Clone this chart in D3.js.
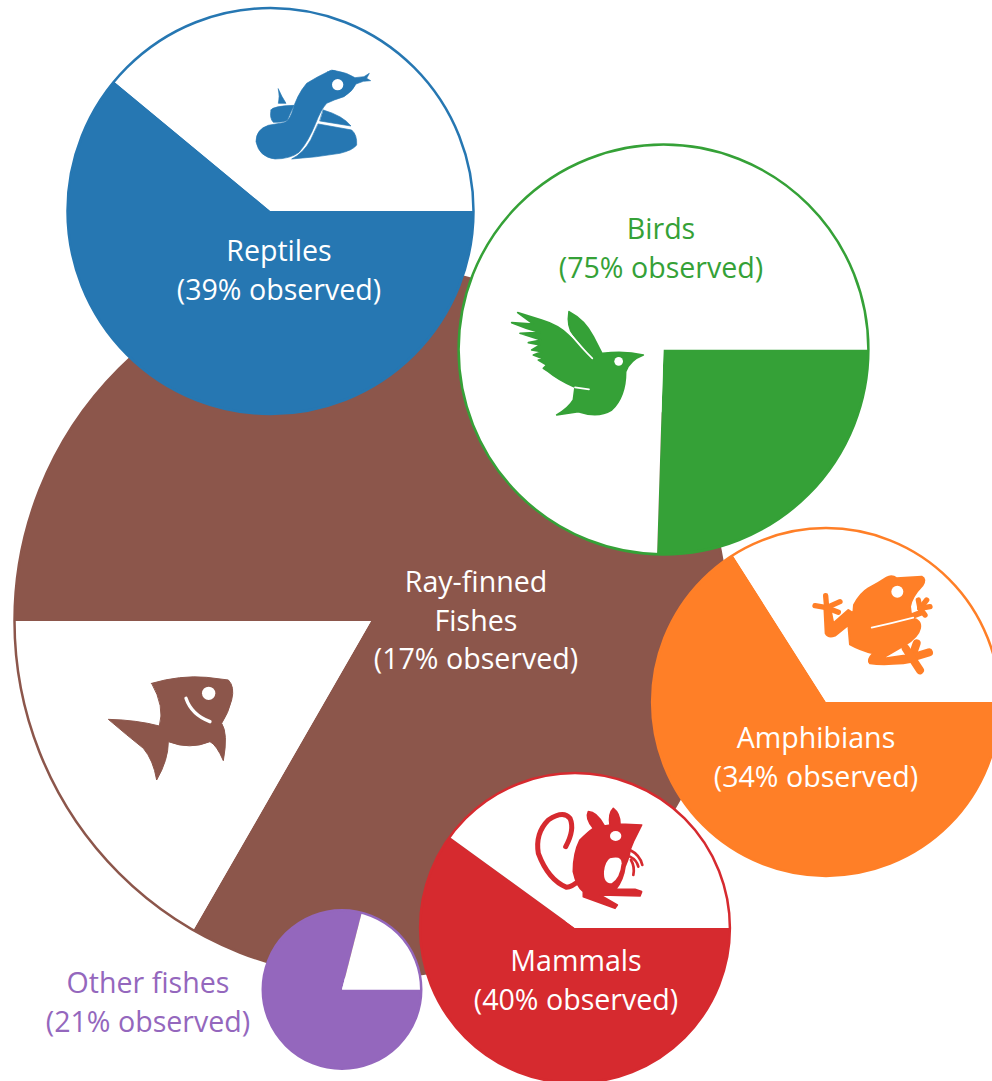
<!DOCTYPE html>
<html>
<head>
<meta charset="utf-8">
<script src="https://cdn.jsdelivr.net/npm/d3@7"></script>
<style>
    html, body { margin: 0; padding: 0; background: #fff; overflow: hidden; }
    svg { display: block; }
    text { font-family: "Open Sans", sans-serif; font-size: 28.6px; text-anchor: middle; }
</style>
</head>
<body>
<script>
// values, drawing order = back to front
var groups = ["Ray-finned Fishes", "Reptiles", "Birds", "Amphibians", "Mammals", "Other fishes"];
var observed = [16.7, 39, 74.5, 34, 40, 21];
var speciesCount = [33000, 10700, 10900, 7850, 6230, 1630];

// layout, kept apart from the values
var centerX = [371, 270.5, 663.5, 826, 575, 342];
var centerY = [621, 211, 349.5, 702, 928, 989.5];
var startDeg = [270, 90, 90, 90, 90, 90];
var colors = ["#8c564b", "#2677b2", "#35a137", "#ff7f27", "#d62a2f", "#9467bd"];
var labelLines = [["Ray-finned", "Fishes"], ["Reptiles"], ["Birds"], ["Amphibians"], ["Mammals"], ["Other fishes"]];
var labelX = [476, 279, 661, 816, 576, 148];
var labelY = [592, 261, 239, 748, 971, 993];
var labelFill = ["#fff", "#fff", "#35a137", "#fff", "#fff", "#9467bd"];

var w = 992,
    h = 1081;

var svg = d3.select("body")
    .append("svg")
    .attr("width", w)
    .attr("height", h);

var radius = d3.scaleSqrt().domain([0, d3.max(speciesCount)]).range([0, 356.5]);

groups.forEach(function (name, i) {
    var start = startDeg[i] * Math.PI / 180;
    var pie = d3.pie().sort(null).startAngle(start).endAngle(start + 2 * Math.PI);
    var r = radius(speciesCount[i]);
    var arc = d3.arc().innerRadius(0).outerRadius(r);

    var g = svg.append("g")
        .attr("transform", "translate(" + centerX[i] + "," + centerY[i] + ")");

    g.selectAll("path")
        .data(pie([100 - observed[i], observed[i]]))
        .enter()
        .append("path")
        .attr("d", arc)
        .attr("fill", function (d, j) { return j == 0 ? colors[i] : "#fff"; });

    g.append("circle")
        .attr("r", r)
        .attr("fill", "none")
        .attr("stroke", colors[i])
        .attr("stroke-width", 2.5);
});

// animal icons, traced in 3x units
function icon(x, y, color, fatten) {
    return svg.append("g")
        .attr("transform", "translate(" + x + "," + y + ") scale(0.3333)")
        .attr("fill", color)
        .attr("stroke", color)
        .attr("stroke-width", fatten)
        .attr("stroke-linejoin", "round")
        .attr("stroke-linecap", "round");
}

function hole(g, cx, cy, rx, ry) {
    g.append("ellipse").attr("cx", cx).attr("cy", cy).attr("rx", rx).attr("ry", ry)
        .attr("fill", "#fff").attr("stroke", "none");
}

function line(g, d, color, width) {
    g.append("path").attr("d", d).attr("fill", "none").attr("stroke", color).attr("stroke-width", width);
}

// snake
var snake = icon(240, 60, colors[1], 2);
snake.append("path").attr("d", "M262,36 Q275,26 290,33 Q322,38 345,53 L372,50 L388,40 L380,55 L392,62 L370,64 L348,72 Q338,94 312,110 Q280,120 260,130 Q242,150 227,190 Q205,245 177,277 Q150,297 105,297 Q58,292 48,245 Q48,208 85,196 L130,188 Q145,186 155,160 Q170,105 200,70 Q232,50 262,36Z");
snake.append("path").attr("d", "M93,150 Q98,138 162,136 L142,180 Q135,187 100,187 Q88,175 93,150Z");
snake.append("path").attr("d", "M115,87 Q125,110 138,130 L115,130 Q120,110 115,87Z");
snake.append("path").attr("d", "M250,150 Q310,168 333,198 L240,183Z");
snake.append("path").attr("d", "M235,192 L335,210 Q352,225 350,255 Q340,270 300,280 Q230,292 155,297 Q190,280 212,240Z");
hole(snake, 293, 74, 17, 17);

// bird
var bird = icon(505, 300, colors[2], 5);
bird.append("path").attr("d", "M192,35 Q240,60 265,110 L293,165 L265,175 L205,105 Q185,80 192,35Z");
bird.append("path").attr("d", "M38,38 L110,60 Q160,75 190,105 L265,178 L293,160 Q360,152 415,165 Q375,180 362,215 Q362,290 320,330 Q280,355 220,335 L155,345 Q190,325 205,300 L210,262 Q160,240 130,215 L115,205 L125,195 L100,180 L118,178 L85,165 L110,155 L80,150 L105,135 L70,128 L108,120 L45,100 L105,97 Q60,85 20,68 L85,72Z");
line(bird, "M195,100 Q230,145 262,175", "#fff", 5);
line(bird, "M210,262 L252,268", "#fff", 5);
hole(bird, 341, 184, 13, 13);

// frog
var frog = icon(805, 565, colors[3], 6);
frog.append("path").attr("d", "M245,38 Q260,28 275,40 L350,35 Q365,42 352,62 Q320,95 315,125 L318,148 L345,138 L352,148 L320,160 Q350,165 345,190 Q340,215 300,240 L228,282 L295,272 L320,272 L320,290 L295,295 Q230,300 195,295 Q185,285 205,265 Q165,255 135,238 L130,180 L90,212 Q70,220 62,205 L58,125 L75,125 L85,175 L130,135 L145,145 L147,120 Q165,85 190,70 Q220,55 245,38Z");
["M65,128 L30,122", "M65,128 L62,92", "M65,128 L105,110", "M65,128 L100,142",
 "M345,130 L340,105", "M345,130 L365,105", "M345,130 L375,125", "M345,130 L360,150"].forEach(function (d) {
    line(frog, d, colors[3], 16);
});
["M320,278 L335,235", "M320,278 L372,262", "M320,278 L345,316", "M320,278 L302,250"].forEach(function (d) {
    line(frog, d, colors[3], 24);
});
line(frog, "M200,188 Q260,175 325,158", "#fff", 5);
hole(frog, 277, 80, 18, 18);

// jerboa
var mouse = icon(525, 800, colors[4], 5);
line(mouse, "M122,140 Q150,90 135,55 Q115,30 70,60 Q30,100 40,160 Q70,240 125,262 Q140,262 165,240", colors[4], 15);
mouse.append("path").attr("d", "M205,85 Q190,95 165,120 Q145,160 145,215 Q155,260 175,275 L175,290 L270,325 L277,315 L225,285 L345,288 L350,275 L330,268 L272,268 Q295,240 300,200 Q315,165 315,150 L325,125 L350,75 L285,72 Q285,40 265,25 Q250,40 255,75 L238,78 Q215,35 190,35 Q180,55 205,85Z");
mouse.append("path").attr("fill", "#fff").attr("stroke", "none").attr("d", "M255,175 Q290,165 290,190 Q285,235 260,250 Q235,250 237,215 Q240,185 255,175Z");
hole(mouse, 272, 108, 17, 15);
line(mouse, "M315,150 Q345,165 352,195", colors[4], 8);
line(mouse, "M315,170 Q335,180 340,200", colors[4], 8);
line(mouse, "M318,180 Q330,200 325,225", colors[4], 8);

// fish
var fish = icon(100, 670, colors[0], 3);
fish.append("path").attr("d", "M155,40 Q240,15 320,22 L385,30 Q405,50 395,90 Q385,130 365,160 Q385,190 370,272 Q350,225 330,215 Q270,240 205,215 Q205,270 170,330 Q160,270 130,235 Q80,195 25,148 Q110,150 178,168 Q195,110 155,40Z");
hole(fish, 326, 70, 20, 20);
line(fish, "M258,85 Q275,135 330,155", "#fff", 10);

// labels
groups.forEach(function (name, i) {
    var lines = labelLines[i].concat("(" + Math.round(observed[i]) + "% observed)");
    svg.append("text")
        .attr("fill", labelFill[i])
        .selectAll("tspan")
        .data(lines)
        .enter()
        .append("tspan")
        .attr("x", labelX[i])
        .attr("y", function (d, j) { return labelY[i] + j * 38.5; })
        .text(function (d) { return d; });
});
</script>
</body>
</html>
